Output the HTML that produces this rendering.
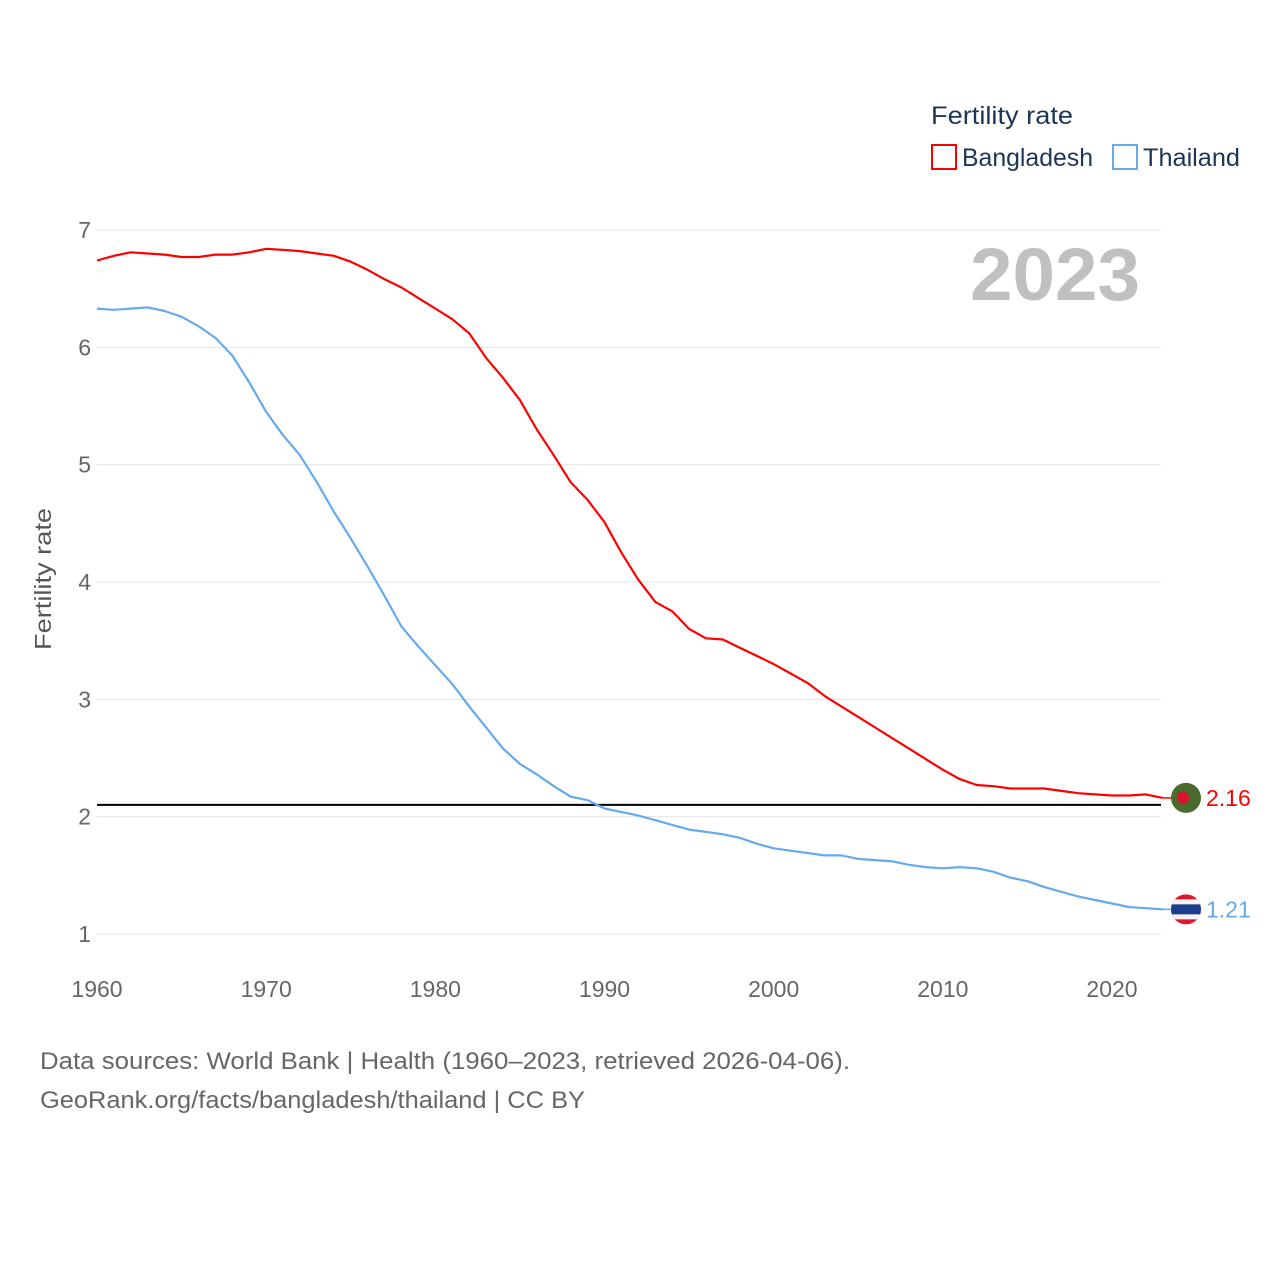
<!DOCTYPE html>
<html><head><meta charset="utf-8"><style>
body{margin:0;background:#fff;width:1280px;height:1280px;overflow:hidden;font-family:"Liberation Sans",sans-serif}
</style></head><body>
<svg id="chart" width="1280" height="1280" xmlns="http://www.w3.org/2000/svg" font-family="Liberation Sans, sans-serif">
<text x="931" y="124" font-size="25" fill="#1d3557" textLength="142" lengthAdjust="spacingAndGlyphs">Fertility rate</text>
<rect x="932" y="145" width="24" height="24" fill="none" stroke="#ff0000" stroke-width="2"/>
<text x="962" y="166" font-size="25" fill="#1d3557" textLength="131" lengthAdjust="spacingAndGlyphs">Bangladesh</text>
<rect x="1113" y="145" width="24" height="24" fill="none" stroke="#66aaee" stroke-width="2"/>
<text x="1143" y="166" font-size="25" fill="#1d3557" textLength="97" lengthAdjust="spacingAndGlyphs">Thailand</text>
<text x="1140" y="300" font-size="74" font-weight="bold" fill="#c0c0c0" text-anchor="end" textLength="170" lengthAdjust="spacingAndGlyphs">2023</text>
<text transform="translate(51,579) rotate(-90)" font-size="23" fill="#555" text-anchor="middle" textLength="142" lengthAdjust="spacingAndGlyphs">Fertility rate</text>
<g id="grid"></g><g id="lines"></g>
<text x="40" y="1069" font-size="24" fill="#666" textLength="810" lengthAdjust="spacingAndGlyphs">Data sources: World Bank | Health (1960–2023, retrieved 2026-04-06).</text>
<text x="40" y="1108" font-size="24" fill="#666" textLength="545" lengthAdjust="spacingAndGlyphs">GeoRank.org/facts/bangladesh/thailand | CC BY</text>
</svg>
<script>
const years=[];for(let y=1960;y<=2023;y++)years.push(y);
const bangladesh=[6.74,6.78,6.81,6.80,6.79,6.77,6.77,6.79,6.79,6.81,6.84,6.83,6.82,6.80,6.78,6.73,6.66,6.58,6.51,6.42,6.33,6.24,6.12,5.91,5.74,5.55,5.30,5.08,4.85,4.70,4.51,4.25,4.02,3.83,3.75,3.60,3.52,3.51,3.44,3.37,3.30,3.22,3.14,3.03,2.94,2.85,2.76,2.67,2.58,2.49,2.40,2.32,2.27,2.26,2.24,2.24,2.24,2.22,2.20,2.19,2.18,2.18,2.19,2.16];
const thailand=[6.33,6.32,6.33,6.34,6.31,6.26,6.18,6.08,5.93,5.70,5.45,5.25,5.08,4.85,4.60,4.37,4.13,3.88,3.62,3.45,3.29,3.13,2.94,2.76,2.58,2.45,2.36,2.26,2.17,2.14,2.07,2.04,2.01,1.97,1.93,1.89,1.87,1.85,1.82,1.77,1.73,1.71,1.69,1.67,1.67,1.64,1.63,1.62,1.59,1.57,1.56,1.57,1.56,1.53,1.48,1.45,1.40,1.36,1.32,1.29,1.26,1.23,1.22,1.21];
const yTicks=[1,2,3,4,5,6,7];
const xTicks=[1960,1970,1980,1990,2000,2010,2020];
const replacement=[2.1];
const NS="http://www.w3.org/2000/svg";
const X=v=>97+(v-1960)*(1112-97)/60;
const Y=v=>934-(v-1)*(934-230)/6;
function mk(tag,attrs,parent,text){const e=document.createElementNS(NS,tag);for(const k in attrs)e.setAttribute(k,attrs[k]);if(text!=null)e.textContent=text;parent.appendChild(e);return e;}
const g=document.getElementById('grid'),L=document.getElementById('lines');
yTicks.forEach(t=>{
 const l=mk('line',{x1:97,x2:1161,y1:Y(t),y2:Y(t),stroke:'#e6e6e6','stroke-width':1},g);
 
 
 const tx=mk('text',{x:91,y:Y(t)+8,'font-size':23,fill:'#666','text-anchor':'end'},g,String(t));
 
 
});
xTicks.forEach(t=>{
 const tx=mk('text',{x:X(t),y:997,'font-size':23,fill:'#666','text-anchor':'middle'},g,String(t));
 
 
});
replacement.forEach(v=>{
 const l=mk('line',{x1:97,x2:1161,y1:Y(v),y2:Y(v),stroke:'#000','stroke-width':2},g);
 
 
});
function series(vals,color,name){
 const d=vals.map((v,i)=>(i?'L':'M')+X(years[i]).toFixed(1)+' '+Y(v).toFixed(1)).join(' ');
 const p=mk('path',{d:d,fill:'none',stroke:color,'stroke-width':2.2,'stroke-linejoin':'round'},L);
 
 
 const last=vals[vals.length-1],lx=X(years[years.length-1]);
 mk('line',{x1:lx,x2:1172,y1:Y(last),y2:Y(last),stroke:color,'stroke-width':1.5},L);
 const lab=mk('text',{x:1206,y:Y(last)+8,'font-size':23,fill:color},L,last.toFixed(2));
 
 
 return Y(last);
}
const by=series(bangladesh,'#ff0000','bangladesh');
const ty=series(thailand,'#66aaee','thailand');
const f1=mk('g',{},L);


mk('circle',{cx:1186,cy:by,r:15,fill:'#4a6a2e'},f1);
mk('circle',{cx:1183,cy:by,r:6,fill:'#dd1030'},f1);
const f2=mk('g',{},L);


mk('clipPath',{id:'tc'},f2).appendChild(document.createElementNS(NS,'circle'));
const cc=f2.querySelector('clipPath circle');cc.setAttribute('cx',1186);cc.setAttribute('cy',ty);cc.setAttribute('r',15);
const gg=mk('g',{'clip-path':'url(#tc)'},f2);
mk('rect',{x:1170,y:ty-15,width:32,height:30,fill:'#e0182d'},gg);
mk('rect',{x:1170,y:ty-10,width:32,height:20,fill:'#f4f4f4'},gg);
mk('rect',{x:1170,y:ty-5,width:32,height:10,fill:'#1d3e8c'},gg);
</script>
</body></html>
